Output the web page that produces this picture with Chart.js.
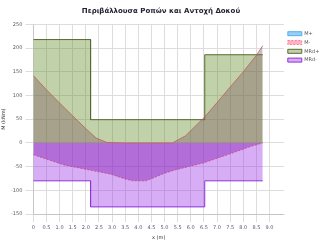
<!DOCTYPE html>
<html>
<head>
<meta charset="utf-8">
<script src="https://cdn.jsdelivr.net/npm/chart.js@4"></script>
<style>
  html, body { margin: 0; padding: 0; background: #fff; }
  #wrap { width: 322px; height: 242px; }
</style>
</head>
<body>
<div id="wrap"><canvas id="envChart"></canvas></div>
<script>
// moment envelopes (kNm)
const xMax = [0, 0.5, 1.0, 1.5, 2.0, 2.4, 2.8, 3.5, 4.5, 5.3, 5.8, 6.5, 7.0, 7.5, 8.0, 8.5, 8.74];
const mMax = [142, 112, 84, 57, 30, 10, 1, 0, 0, 0, 15, 53, 85, 118, 150, 185, 205];

const xMin = [0, 1.2, 2.5, 2.95, 3.5, 3.8, 4.3, 5.0, 5.4, 6.5, 7.6, 8.25, 8.74];
const mMin = [-25, -47, -61, -66, -76, -80, -80, -64, -57, -42, -21, -8, 0];

// resistance steps
const xRd = [0, 2.18, 2.18, 6.53, 6.53, 8.74];
const mRdPos = [218, 218, 49, 49, 186, 186];
const mRdNeg = [-80, -80, -135, -135, -80, -80];

const seriesNames = ["M+", "M-", "MRd+", "MRd-"];
const chartTitle = "Περιβάλλουσα Ροπών και Αντοχή Δοκού";

const pts = (xs, ys) => xs.map((x, i) => ({ x: x, y: ys[i] }));

document.addEventListener("DOMContentLoaded", () => {
  const ctx = document.getElementById("envChart").getContext("2d");
  const small = { family: "DejaVu Sans", size: 5 };

  new Chart(ctx, {
    type: "line",
    data: {
      datasets: [
        {
          label: seriesNames[0],
          data: pts(xMax, mMax),
          borderColor: "rgb(54,162,235)",
          backgroundColor: "rgba(54,162,235,0.5)",
          segment: { borderColor: "rgb(190,95,85)" },
          borderWidth: 0.8,
          fill: { target: "origin", above: "rgba(127,87,93,0.38)" },
          pointRadius: 0
        },
        {
          label: seriesNames[1],
          data: pts(xMin, mMin),
          borderColor: "rgb(255,99,132)",
          backgroundColor: "rgba(255,99,132,0.5)",
          segment: { borderColor: "rgb(200,70,120)" },
          borderWidth: 0.8,
          borderDash: [2, 1.5],
          fill: { target: "origin", below: "rgba(132,32,182,0.45)" },
          pointRadius: 0
        },
        {
          label: seriesNames[2],
          data: pts(xRd, mRdPos),
          borderColor: "rgb(85,107,47)",
          backgroundColor: "rgba(100,140,40,0.4)",
          borderWidth: 1,
          fill: "origin",
          pointRadius: 0
        },
        {
          label: seriesNames[3],
          data: pts(xRd, mRdNeg),
          borderColor: "rgb(140,50,220)",
          backgroundColor: "rgba(150,40,230,0.38)",
          borderWidth: 1,
          fill: "origin",
          pointRadius: 0
        }
      ]
    },
    options: {
      responsive: true,
      maintainAspectRatio: false,
      animation: false,
      layout: { padding: { left: 0, right: 0, top: 2, bottom: 0 } },
      plugins: {
        title: {
          display: true,
          text: chartTitle,
          color: "#223",
          font: { family: "DejaVu Sans", size: 7 },
          padding: { top: 5, bottom: 9 }
        },
        legend: {
          position: "right",
          align: "start",
          maxWidth: 38,
          title: { display: true, text: " ", font: { size: 2 }, padding: { top: 23, bottom: 0 } },
          labels: { boxWidth: 14, boxHeight: 4, padding: 3.8, font: small, color: "#555" }
        },
        tooltip: { enabled: false }
      },
      scales: {
        x: {
          type: "linear",
          min: 0,
          max: 9.55,
          afterBuildTicks: (axis) => {
            axis.ticks = axis.ticks.filter(t => t.value <= 9.001);
          },
          ticks: { stepSize: 0.5, font: small, color: "#557", maxRotation: 0 },
          grid: { color: "#ddd" },
          title: { display: true, text: "x (m)", font: small, color: "#333", padding: 1 }
        },
        y: {
          min: -150,
          max: 250,
          ticks: { stepSize: 50, font: small, color: "#655" },
          grid: { color: "#ddd" },
          title: { display: true, text: "M (kNm)", font: small, color: "#333", padding: 1 }
        }
      }
    }
  });
});
</script>
</body>
</html>
